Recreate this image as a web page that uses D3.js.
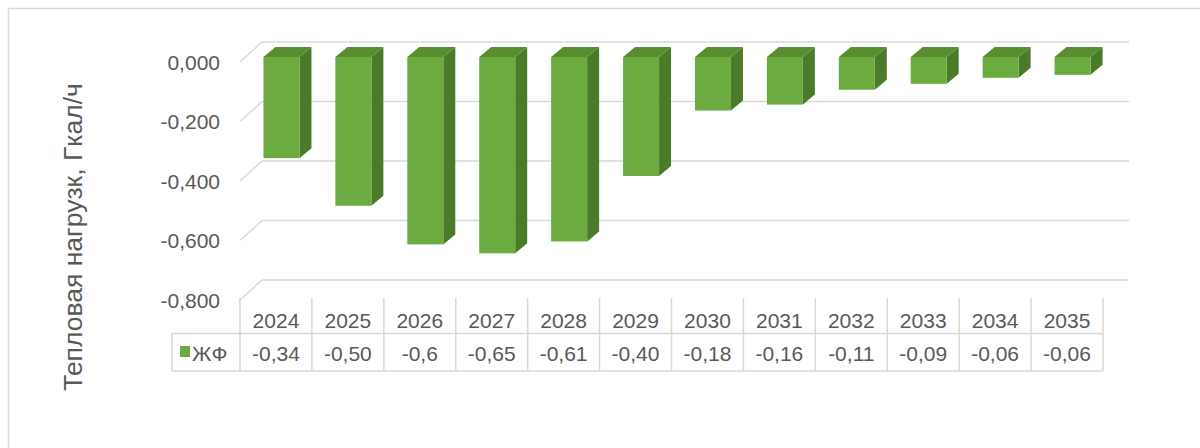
<!DOCTYPE html>
<html>
<head>
<meta charset="utf-8">
<script src="https://cdn.jsdelivr.net/npm/d3@7"></script>
<style>
  html, body { margin: 0; padding: 0; background: #fff; }
  svg { display: block; font-family: "Liberation Sans", Arial, sans-serif; }
</style>
</head>
<body>
<svg id="chart" width="1200" height="448"></svg>
<script>
// ЖФ heat load change per year, Gcal/h
const YEARS  = ["2024","2025","2026","2027","2028","2029","2030","2031","2032","2033","2034","2035"];
const VALUES = [-0.34, -0.50, -0.63, -0.66, -0.62, -0.40, -0.18, -0.16, -0.11, -0.09, -0.07, -0.06];
const VALUE_LABELS = ["-0,34","-0,50","-0,6","-0,65","-0,61","-0,40","-0,18","-0,16","-0,11","-0,09","-0,06","-0,06"];
const Y_TICKS = [0, -0.2, -0.4, -0.6, -0.8];
const SERIES_NAME = "ЖФ";
const Y_TITLE = "Тепловая нагрузк, Гкал/ч";

const GRID   = "#d9d9d9";
const TEXT   = "#595959";
const FRONT  = "#6cab3f";
const SIDE   = "#4a7b28";
const TOP    = "#578e31";

const DEPTH  = { dx: 22, dy: -20 };   // floor depth (front -> back wall)
const BAR_D  = { dx: 12, dy: -10 };   // bar own depth
const BAR_OFF = { dx: 5.5, dy: -5 };  // bar front face sits a quarter into the floor

const svg = d3.select("#chart");

// outer frame
svg.append("rect")
  .attr("x", 8.5).attr("y", 8.5)
  .attr("width", 1300).attr("height", 600)
  .attr("fill", "none").attr("stroke", GRID).attr("stroke-width", 1.5);

const x = d3.scaleBand().domain(YEARS).range([240, 1103]);
const y = d3.scaleLinear().domain([-0.8, 0]).range([300, 62]);   // front plane

const fmt = d => d3.format(".3f")(d).replace(".", ",").replace("−", "-");

// back wall grid + left side wall diagonals
const grid = svg.append("g");
Y_TICKS.forEach(t => {
  const yf = y(t);
  grid.append("line")
    .attr("x1", x.range()[0] + DEPTH.dx).attr("x2", x.range()[1] + DEPTH.dx + 4)
    .attr("y1", yf + DEPTH.dy).attr("y2", yf + DEPTH.dy)
    .attr("stroke", GRID).attr("stroke-width", 1.5);
  grid.append("line")
    .attr("x1", x.range()[0]).attr("y1", yf)
    .attr("x2", x.range()[0] + DEPTH.dx).attr("y2", yf + DEPTH.dy)
    .attr("stroke", GRID).attr("stroke-width", 1.5);
  svg.append("text")
    .attr("x", 220).attr("y", yf)
    .attr("text-anchor", "end").attr("dominant-baseline", "central")
    .attr("fill", TEXT).style("font-size", "21px")
    .text(fmt(t));
});

// 3D bars
const bars = svg.append("g");
const bw = 36;
YEARS.forEach((yr, i) => {
  const v = VALUES[i];
  const cx = x(yr) + x.bandwidth() / 2 + BAR_OFF.dx;
  const xl = cx - bw / 2, xr = cx + bw / 2;
  const yt = y(0) + BAR_OFF.dy, yb = y(v) + BAR_OFF.dy;
  const g = bars.append("g");
  // side
  g.append("path")
    .attr("d", `M${xr},${yt} L${xr + BAR_D.dx},${yt + BAR_D.dy} L${xr + BAR_D.dx},${yb + BAR_D.dy} L${xr},${yb} Z`)
    .attr("fill", SIDE);
  // top
  g.append("path")
    .attr("d", `M${xl},${yt} L${xl + BAR_D.dx},${yt + BAR_D.dy} L${xr + BAR_D.dx},${yt + BAR_D.dy} L${xr},${yt} Z`)
    .attr("fill", TOP);
  // front
  g.append("rect")
    .attr("x", xl).attr("y", yt)
    .attr("width", bw).attr("height", yb - yt)
    .attr("fill", FRONT);
});

// data table
const tTop = 298, tMid = 333.5, tBot = 371, tLeft = 172;
const table = svg.append("g").attr("stroke", GRID).attr("stroke-width", 1.5);
table.append("line").attr("x1", tLeft).attr("x2", x.range()[1]).attr("y1", tMid).attr("y2", tMid);
table.append("line").attr("x1", tLeft).attr("x2", x.range()[1]).attr("y1", tBot).attr("y2", tBot);
table.append("line").attr("x1", tLeft).attr("x2", tLeft).attr("y1", tMid).attr("y2", tBot);
YEARS.forEach(yr => {
  table.append("line").attr("x1", x(yr)).attr("x2", x(yr)).attr("y1", tTop).attr("y2", tBot);
});
table.append("line").attr("x1", x.range()[1]).attr("x2", x.range()[1]).attr("y1", tTop).attr("y2", tBot);

YEARS.forEach((yr, i) => {
  const c = x(yr) + x.bandwidth() / 2;
  svg.append("text")
    .attr("x", c).attr("y", 320)
    .attr("text-anchor", "middle").attr("dominant-baseline", "central")
    .attr("fill", TEXT).style("font-size", "21px")
    .text(yr);
  svg.append("text")
    .attr("x", c).attr("y", 353.5)
    .attr("text-anchor", "middle").attr("dominant-baseline", "central")
    .attr("fill", TEXT).style("font-size", "21px")
    .text(VALUE_LABELS[i]);
});

// legend key in table
svg.append("rect")
  .attr("x", 180).attr("y", 346).attr("width", 10).attr("height", 11)
  .attr("fill", FRONT);
svg.append("text")
  .attr("x", 192).attr("y", 353.5)
  .attr("dominant-baseline", "central")
  .attr("fill", TEXT).style("font-size", "21px")
  .text(SERIES_NAME);

// axis title
svg.append("text")
  .attr("transform", "translate(82,237) rotate(-90)")
  .attr("text-anchor", "middle")
  .attr("fill", TEXT).style("font-size", "26.5px")
  .text(Y_TITLE);
</script>
</body>
</html>
